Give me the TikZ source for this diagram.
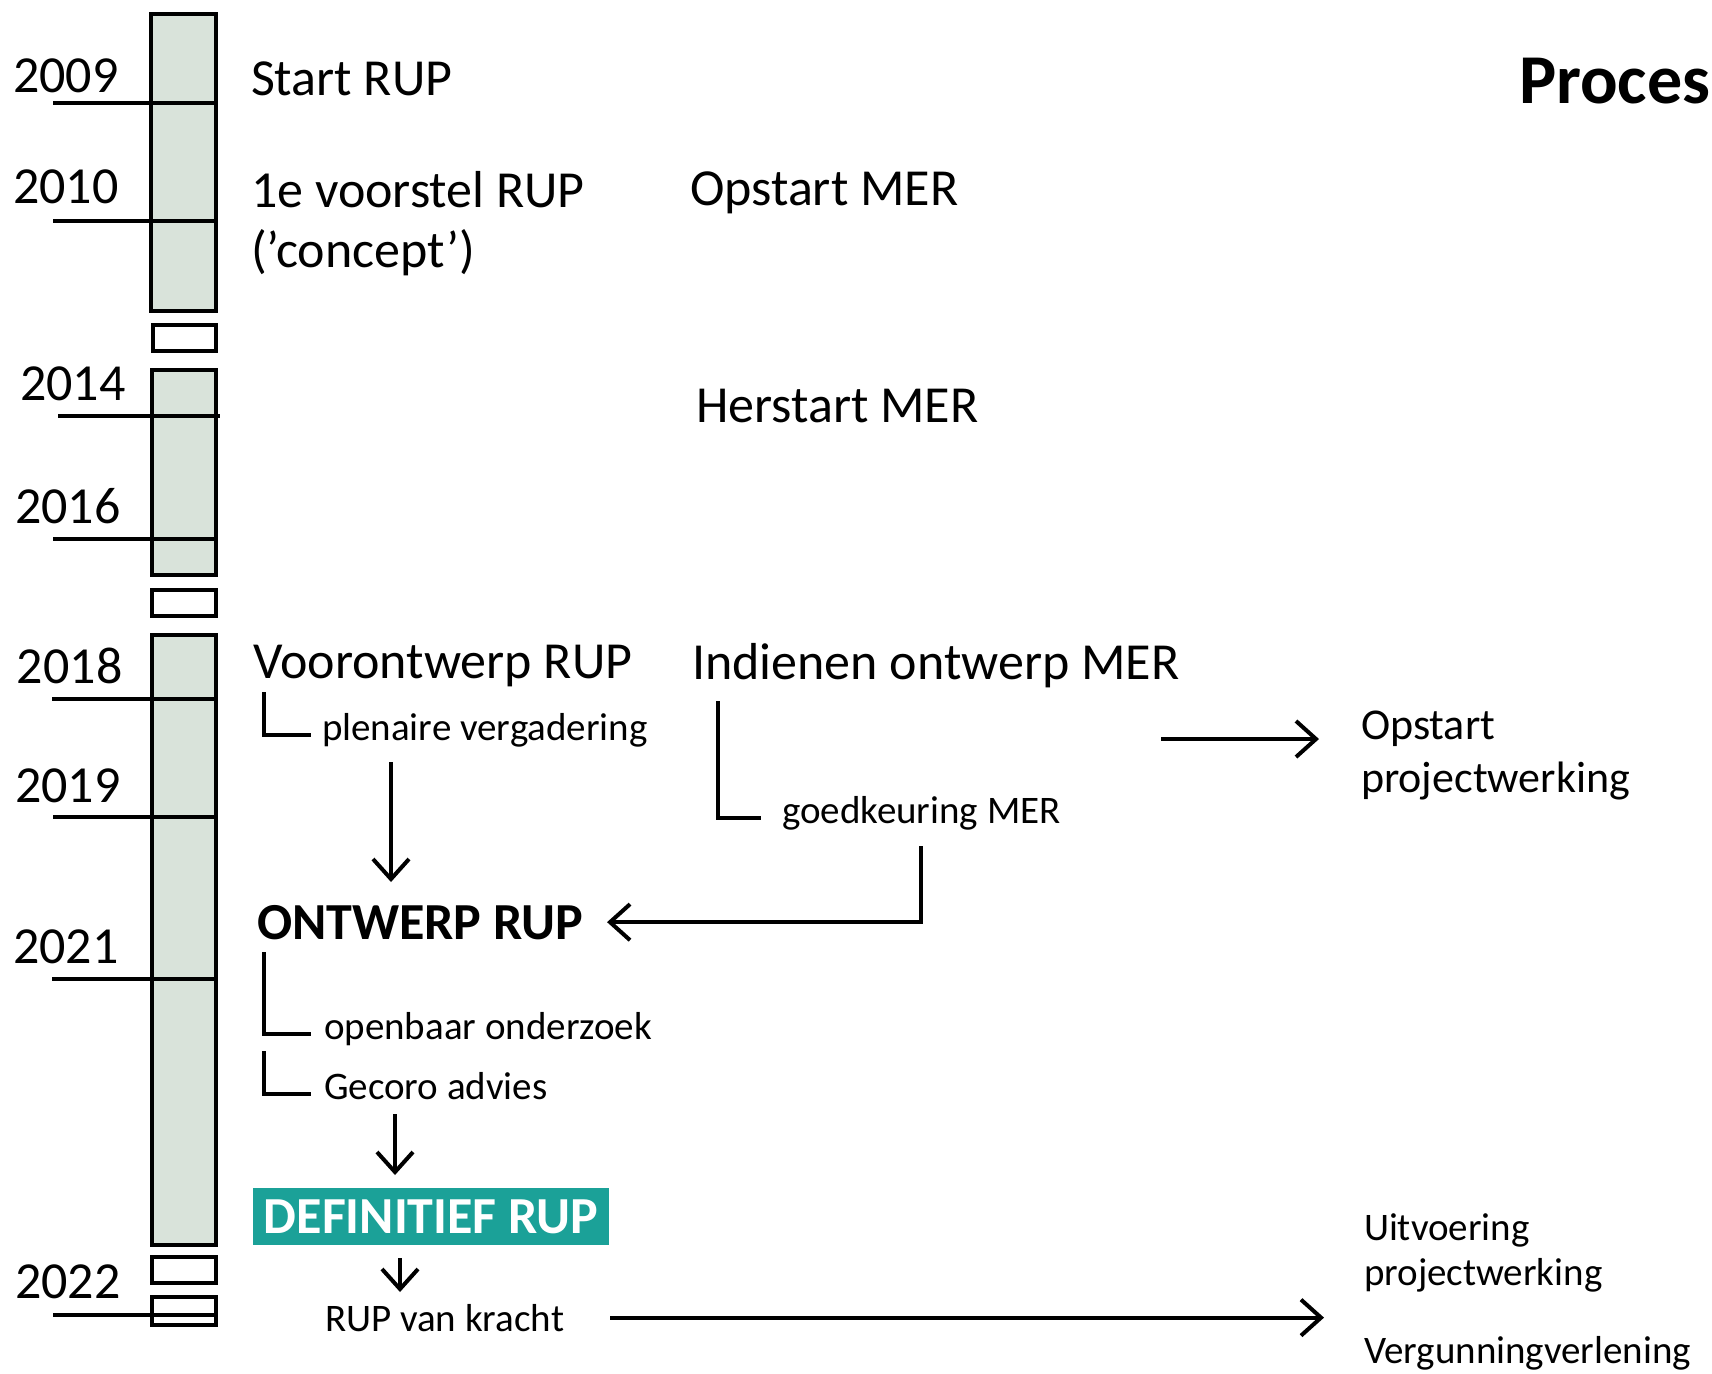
\documentclass[tikz,border=0pt]{standalone}
\usepackage{fontspec}
\setmainfont{Carlito}
\usepackage{tikz}
\usepackage{xcolor}
\usetikzlibrary{arrows.meta}
\definecolor{bargreen}{RGB}{217,227,218}
\definecolor{defgreen}{RGB}{27,161,152}

\begin{document}
\begin{tikzpicture}[x=0.5pt,y=-0.5pt,line width=2pt,>={Straight Barb[length=10pt,width=18pt]},
                    bar/.style={draw,fill=bargreen},gap/.style={draw,fill=white},
                    year/.style={anchor=base west,inner sep=0pt,font=\fontsize{26}{30}\selectfont},
                    big node/.style={anchor=base west,inner sep=0pt,font=\fontsize{26}{30}\selectfont},
                    small node/.style={anchor=base west,inner sep=0pt,font=\fontsize{19.5}{22.5}\selectfont},
                    mid node/.style={anchor=base west,inner sep=0pt,font=\fontsize{22}{26.5}\selectfont},
                    bold node/.style={anchor=base west,inner sep=0pt,font=\bfseries\fontsize{26}{30}\selectfont},
                    title node/.style={anchor=base west,inner sep=0pt,font=\bfseries\fontsize{35}{42}\selectfont},
                    final node/.style={fill=defgreen,text=white,inner sep=0pt,minimum width=178pt,
                                       minimum height=28.5pt,font=\bfseries\fontsize{26}{30}\selectfont}]

  \useasboundingbox (0,0) rectangle (1712,1373);

  \draw[bar] (151,14) rectangle (216,311);
  \draw[gap] (153,325) rectangle (216,351);
  \draw[bar] (152,370) rectangle (216,575);
  \draw[gap] (152,590) rectangle (216,616);
  \draw[bar] (152,635) rectangle (216,1245);
  \draw[gap] (152,1257) rectangle (216,1283);
  \draw[gap] (152,1297) rectangle (216,1325);

  \foreach \y/\x/\e in {103/53/216,221/53/216,416/58/220,539/53/216,699/52/216,817/53/216,979/52/216,1315/53/216}
    \draw (\x,\y) -- (\e,\y);

  \foreach \yr/\x/\b in {2009/11/92,2010/11/203,2014/18/400,2016/13/523,2018/15/683,2019/13/802,2021/11/963,2022/13/1298}
    \node[year] (y\yr) at (\x,\b) {\yr};

  \node[title node] (titel) at (1517,103) {Proces};
  \node[big node] (start) at (249,95) {Start RUP};
  \node[big node,align=left] (voorstel) at (249,267) {1e voorstel RUP\\(’concept’)};
  \node[big node] (opmer) at (688,205) {Opstart MER};
  \node[big node] (hermer) at (694,422) {Herstart MER};
  \node[big node] (voor) at (251,678) {Voorontwerp RUP};
  \node[big node] (indien) at (690,679) {Indienen ontwerp MER};
  \node[small node] (plen) at (320,740) {plenaire vergadering};
  \node[small node] (goed) at (780,823) {goedkeuring MER};
  \node[mid node,align=left] (opproj) at (1359,792) {Opstart\\projectwerking};
  \node[bold node] (ontw) at (255,939) {ONTWERP RUP};
  \node[small node] (openb) at (322,1039) {openbaar onderzoek};
  \node[small node] (geco) at (322,1099) {Gecoro advies};
  \node[final node] (defi) at (431,1216.5) {DEFINITIEF RUP};
  \node[small node] (kracht) at (323,1331) {RUP van kracht};
  \node[small node,align=left] (uitv) at (1362,1285) {Uitvoering\\projectwerking};
  \node[small node] (verg) at (1362,1363) {Vergunningverlening};

  \coordinate (merpijl) at (1161,739);

  \draw ([shift={(13,14)}]voor.base west) |- ([xshift=-4.5pt]plen.mid west);
  \draw[->] ([shift={(71,22)}]plen.base west) -- ([shift={(136,-57)}]ontw.base west);
  \draw ([shift={(28,22)}]indien.base west) |- ([xshift=-9.5pt]goed.mid west);
  \draw[->] ([shift={(141,23)}]goed.base west) |- ([xshift=11pt]ontw.east);
  \draw[->] (merpijl) -- ([shift={(-40,-53)}]opproj.base west);
  \draw ([shift={(9,13)}]ontw.base west) |- ([xshift=-5.5pt]openb.mid west);
  \draw ([shift={(-58,12)}]openb.base west) |- ([xshift=-5.5pt]geco.mid west);
  \draw[->] ([shift={(73,15)}]geco.base west) -- ([shift={(-36,-11)}]defi.north);
  \draw[->] ([shift={(-31,11)}]defi.south) -- ([shift={(77,-39)}]kracht.base west);
  \draw[->] ([xshift=22pt]kracht.east) -- ([xshift=-19pt]kracht.east -| verg.west);
\end{tikzpicture}
\end{document}
